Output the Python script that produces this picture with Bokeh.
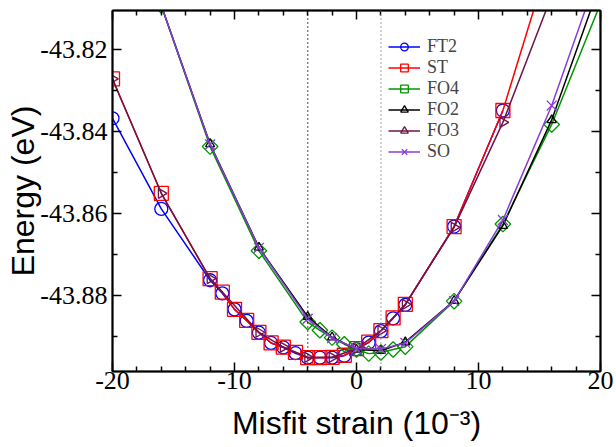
import math
from bokeh.plotting import figure
from bokeh.models import (Range1d, FixedTicker, LinearAxis, Span, Legend,
                          LegendItem, PrintfTickFormatter, CustomLabelingPolicy)
from bokeh.embed import file_html
from bokeh.resources import INLINE

# ---------------- data ----------------
x_ft2 = [-20, -16, -12, -11, -10, -9, -8, -7, -6, -5, -4, -3, -2, -1, 0, 1, 2, 3, 4, 8, 12]
e_ft2 = [-43.8367, -43.8588, -43.8762, -43.8794, -43.8833, -43.8861, -43.8890, -43.8915,
         -43.8926, -43.8940, -43.8951, -43.8951, -43.8951, -43.8946, -43.8930, -43.8914,
         -43.8886, -43.8855, -43.8822, -43.8631, -43.8348]

x_st = [-20, -16, -12, -11, -10, -9, -8, -7, -6, -5, -4, -3, -2, -1, 0, 1, 2, 3, 4, 8, 12, 16]
e_st = [-43.8271, -43.8550, -43.8758, -43.8791, -43.8833, -43.8860, -43.8889, -43.8915,
        -43.8925, -43.8938, -43.8951, -43.8951, -43.8950, -43.8945, -43.8929, -43.8913,
        -43.8885, -43.8854, -43.8821, -43.8631, -43.8348, -43.7960]

x_fo4 = [-16, -12, -8, -4, -3, -2, -1, 0, 1, 2, 3, 4, 8, 12, 16, 20]
e_fo4 = [-43.8092, -43.8436, -43.8690, -43.8864, -43.8884, -43.8902, -43.8918, -43.8931,
         -43.8941, -43.8938, -43.8931, -43.8924, -43.8813, -43.8625, -43.8382, -43.8087]

x_fo2 = [-16, -12, -8, -4, -2, 0, 2, 4, 8, 12, 16, 20]
e_fo2 = [-43.8092, -43.8430, -43.8682, -43.8851, -43.8901, -43.8931, -43.8934, -43.8913,
         -43.8812, -43.8629, -43.8371, -43.8036]

x_fo3 = [-20, -16, -12, -8, -6, -4, -2, 0, 2, 4, 8, 12, 16]
e_fo3 = [-43.8271, -43.8550, -43.8758, -43.8889, -43.8925, -43.8950, -43.8950, -43.8929,
         -43.8885, -43.8821, -43.8633, -43.8377, -43.8068]

x_so = [-16, -12, -8, -4, -2, 0, 2, 4, 8, 12, 16, 20]
e_so = [-43.8092, -43.8431, -43.8683, -43.8856, -43.8903, -43.8929, -43.8930, -43.8915,
        -43.8813, -43.8615, -43.8336, -43.7997]

ref_lines = [-4, 2]

x_major = [-20, -10, 0, 10, 20]
x_minor = [-18, -16, -14, -12, -8, -6, -4, -2, 2, 4, 6, 8, 12, 14, 16, 18]
y_major = [-43.88, -43.86, -43.84, -43.82]
y_minor = [-43.89, -43.87, -43.85, -43.83, -43.81]

# ---------------- figure ----------------
p = figure(width=616, height=447, output_backend="svg", toolbar_location=None,
           x_range=Range1d(-20, 20), y_range=Range1d(-43.89846, -43.81041),
           min_border_left=112, min_border_right=16, min_border_top=10, min_border_bottom=76)
p.grid.visible = False
p.outline_line_color = "black"
p.outline_line_width = 1.5
p.background_fill_color = "white"
p.border_fill_color = "white"

TICK_FONT = "Liberation Serif"
no_labels = CustomLabelingPolicy(code="""
for (const i of indices) { indices.unset(i) }
return indices
""")


def style_axis(ax, ticks, minor, labels=True):
    ax.ticker = FixedTicker(ticks=ticks, minor_ticks=minor)
    ax.axis_line_width = 2
    ax.major_tick_line_width = 1.5
    ax.minor_tick_line_width = 1.5
    ax.major_tick_in = 9
    ax.major_tick_out = 0
    ax.minor_tick_in = 5
    ax.minor_tick_out = 0
    ax.major_label_text_font = TICK_FONT
    ax.major_label_text_color = "black"
    if labels:
        ax.major_label_text_font_size = "26px"
    else:
        ax.major_label_text_font_size = "0px"
        ax.major_label_policy = no_labels


xa = p.xaxis[0]
ya = p.yaxis[0]
style_axis(xa, x_major, x_minor)
style_axis(ya, y_major, y_minor)
xa.major_label_standoff = 0
ya.major_label_standoff = 5
ya.formatter = PrintfTickFormatter(format="%.2f")
xa.formatter = PrintfTickFormatter(format="%d")

xa.axis_label = "Misfit strain (10\u207b\u00b3)"
ya.axis_label = "Energy (eV)"
for ax in (xa, ya):
    ax.axis_label_text_font = "Liberation Sans"
    ax.axis_label_text_font_size = "32px"
    ax.axis_label_text_font_style = "normal"
    ax.axis_label_text_color = "black"
xa.axis_label_standoff = 13
ya.axis_label_standoff = -4

ra = LinearAxis()
style_axis(ra, y_major, y_minor, labels=False)
p.add_layout(ra, "right")
ta = LinearAxis()
style_axis(ta, x_major, x_minor, labels=False)
p.add_layout(ta, "above")

# reference lines
p.add_layout(Span(location=ref_lines[0], dimension="height", line_color="black",
                  line_width=1.5, line_dash="1 3"))
p.add_layout(Span(location=ref_lines[1], dimension="height", line_color="#8a8a8a",
                  line_width=1.5, line_dash="1 3"))

# ---------------- series ----------------
series = [
    ("FT2", x_ft2, e_ft2, "#0000ff", dict(marker="circle", size=13)),
    ("ST", x_st, e_st, "#ff0000", dict(marker="square", size=14)),
    ("FO4", x_fo4, e_fo4, "#009600", dict(marker="square", size=11, angle=math.pi / 4)),
    ("FO2", x_fo2, e_fo2, "#000000", dict(marker="triangle", size=9)),
    ("FO3", x_fo3, e_fo3, "#6f1449", dict(marker="triangle", size=10, angle=-math.pi / 2)),
    ("SO", x_so, e_so, "#8a3cd8", dict(marker="x", size=14)),
]

items = []
for name, xs, ys, col, mk in series:
    lr = p.line(xs, ys, line_color=col, line_width=1.5)
    sr = p.scatter(xs, ys, line_color=col, fill_color=None, line_width=1.3, **mk)
    items.append(LegendItem(label=name, renderers=[lr, sr]))

legend = Legend(items=items, location=(276, 209), label_text_font=TICK_FONT,
                label_text_font_size="18px", glyph_width=32, glyph_height=19,
                label_height=19, spacing=0, padding=0, margin=0, label_standoff=7,
                border_line_color=None, background_fill_alpha=0)
p.add_layout(legend)

open("out.html", "w").write(file_html(p, INLINE))
